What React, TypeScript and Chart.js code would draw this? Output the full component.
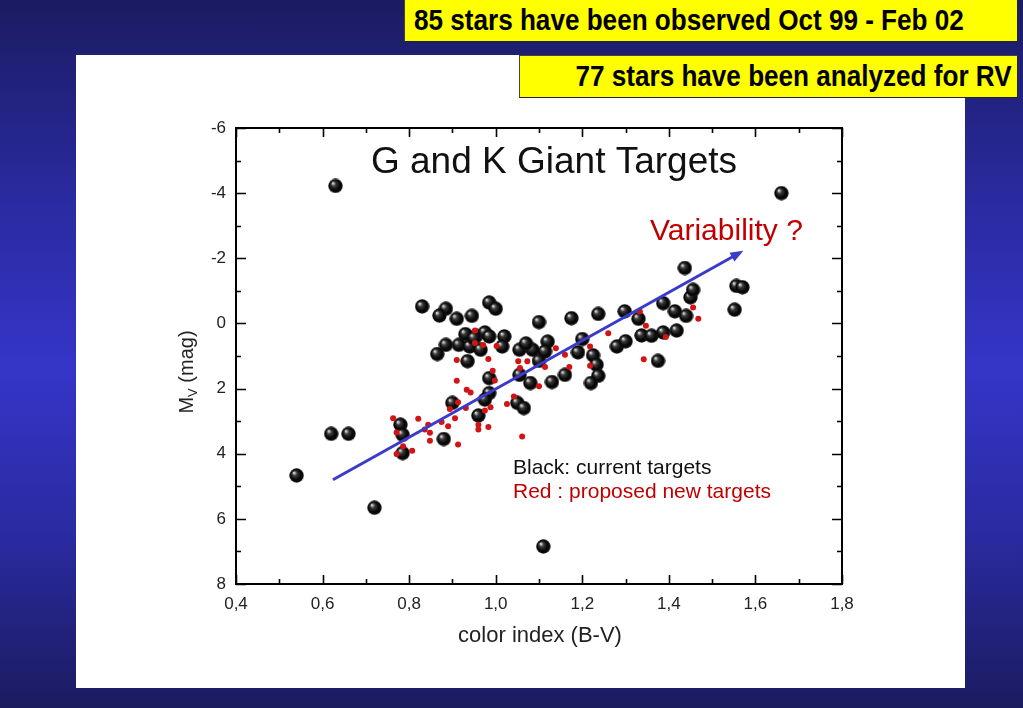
import React, { useEffect, useRef } from 'react';
import { Chart, registerables } from 'chart.js';

Chart.register(...registerables);

// ---------- data ----------
const xTickValues = [0.4, 0.6, 0.8, 1.0, 1.2, 1.4, 1.6, 1.8];
const yTickValues = [-6, -4, -2, 0, 2, 4, 6, 8];

const currentTargetsX = [
  0.63, 1.66, 0.54, 0.62, 0.66, 0.72, 1.11, 0.88, 0.83, 0.885,
  0.87, 0.91, 0.945, 0.985, 1.0, 1.1, 0.93, 0.955, 0.975, 0.985,
  1.02, 0.885, 0.915, 0.94, 0.965, 1.015, 0.865, 1.055, 1.085, 0.935,
  1.08, 0.985, 0.985, 0.975, 0.9, 1.05, 1.065, 0.96, 1.055, 0.78,
  0.785, 0.785, 1.175, 1.237, 1.298, 1.33, 1.387, 1.414, 1.44, 1.45,
  1.552, 1.12, 1.2, 1.114, 1.19, 1.225, 1.1, 1.233, 1.237, 1.16,
  1.13, 1.22, 1.28, 1.3, 1.337, 1.36, 1.387, 1.418, 1.375, 1.437,
  1.456, 1.556, 1.57, 0.95, 1.07,
];
const currentTargetsY = [
  -4.22, -4.0, 4.67, 3.39, 3.39, 5.66, 6.85, 3.55, -0.52, -0.45,
  -0.24, -0.14, -0.23, -0.64, -0.45, -0.04, 0.33, 0.38, 0.28, 0.4,
  0.4, 0.66, 0.66, 0.71, 0.81, 0.71, 0.94, 0.81, 0.81, 1.16,
  1.83, 1.68, 2.14, 2.34, 2.44, 2.44, 2.6, 2.83, 1.58, 3.11,
  3.42, 3.98, -0.16, -0.29, -0.37, -0.14, -0.62, -0.37, -0.23, -0.8,
  -0.42, 0.56, 0.48, 0.86, 0.89, 0.98, 1.15, 1.27, 1.61, 1.58,
  1.8, 1.83, 0.71, 0.55, 0.37, 0.38, 0.28, 0.22, 1.15, -1.7,
  -1.03, -1.15, -1.11, 0.45, 0.62,
];

const proposedTargetsX = [
  1.456, 1.468, 1.333, 1.347, 1.26, 1.393, 1.139, 1.218, 1.16, 1.114,
  1.17, 1.218, 1.1, 1.342, 0.952, 0.952, 0.971, 1.002, 0.91, 0.983,
  1.052, 1.056, 1.073, 0.993, 0.91, 0.998, 0.933, 0.942, 1.042, 0.913,
  1.026, 0.894, 0.931, 0.975, 0.988, 0.763, 0.821, 0.906, 0.875, 0.89,
  0.96, 0.96, 0.983, 0.844, 0.836, 0.848, 0.771, 0.848, 0.913, 0.786,
  0.771, 0.807, 1.061,
];
const proposedTargetsY = [
  -0.49, -0.14, -0.37, 0.07, 0.3, 0.42, 0.76, 0.71, 0.96, 1.34,
  1.34, 1.3, 1.93, 1.1, 0.22, 0.6, 0.66, 0.69, 1.12, 1.09,
  1.16, 1.37, 1.16, 1.45, 1.76, 1.75, 2.04, 2.12, 2.24, 2.42,
  2.47, 2.63, 2.6, 2.67, 2.57, 2.91, 2.93, 2.91, 3.03, 3.16,
  3.11, 3.26, 3.18, 3.11, 3.26, 3.36, 3.35, 3.6, 3.72, 3.77,
  4.01, 3.91, 3.47,
];

const trendX = [0.624, 1.564];
const trendY = [4.8, -2.17];

const titleText = 'G and K Giant Targets';
const noteText = 'Variability ?';
const legendBlack = 'Black: current targets';
const legendRed = 'Red : proposed new targets';
const xTitle = 'color index (B-V)';
const banner1 = '85 stars have been observed Oct 99 - Feb 02';
const banner2 = '77 stars have been analyzed for RV';

// ---------- styles ----------
const FONT = "'Liberation Sans', Arial, Helvetica, sans-serif";
const RED = '#d21414';
const DARKRED = '#c00000';
const BLUE = '#3a3acb';

function makeSphere(d: number): HTMLCanvasElement {
  const c = document.createElement('canvas');
  c.width = d;
  c.height = d;
  const g = c.getContext('2d')!;
  const r = d / 2;
  const grad = g.createRadialGradient(r - r * 0.38, r - r * 0.4, 0, r, r, r);
  grad.addColorStop(0, '#ffffff');
  grad.addColorStop(0.12, '#b8b8b8');
  grad.addColorStop(0.32, '#3a3a3a');
  grad.addColorStop(0.7, '#050505');
  grad.addColorStop(0.92, '#111111');
  grad.addColorStop(1, '#3a3a3a');
  g.fillStyle = grad;
  g.beginPath();
  g.arc(r, r, r - 0.3, 0, Math.PI * 2);
  g.fill();
  return c;
}

const framePlugin = {
  id: 'frameTicks',
  afterDatasetsDraw(chart: any) {
    const { ctx, chartArea: a, scales } = chart;
    const xs = scales.x;
    const ys = scales.y;
    ctx.save();
    ctx.strokeStyle = '#000';
    ctx.lineWidth = 2;
    ctx.strokeRect(a.left, a.top, a.right - a.left, a.bottom - a.top);
    ctx.lineWidth = 1.6;
    ctx.beginPath();
    for (let i = 0; i <= 14; i++) {
      const v = 0.4 + i * 0.1;
      const px = Math.round(xs.getPixelForValue(v)) + 0.5;
      const len = i % 2 === 0 ? 9 : 5;
      ctx.moveTo(px, a.bottom);
      ctx.lineTo(px, a.bottom - len);
      ctx.moveTo(px, a.top);
      ctx.lineTo(px, a.top + len);
    }
    for (let i = 0; i <= 14; i++) {
      const v = -6 + i;
      const py = Math.round(ys.getPixelForValue(v)) + 0.5;
      const len = i % 2 === 0 ? 10 : 5;
      ctx.moveTo(a.left, py);
      ctx.lineTo(a.left + len, py);
      ctx.moveTo(a.right, py);
      ctx.lineTo(a.right - len, py);
    }
    ctx.stroke();

    // arrow head
    const meta = chart.getDatasetMeta(0);
    const p0 = meta.data[0];
    const p1 = meta.data[1];
    if (p0 && p1) {
      const dx = p1.x - p0.x;
      const dy = p1.y - p0.y;
      const L = Math.hypot(dx, dy);
      const ux = dx / L;
      const uy = dy / L;
      const tipX = p1.x + ux * 4;
      const tipY = p1.y + uy * 4;
      const bx = tipX - ux * 13;
      const by = tipY - uy * 13;
      ctx.fillStyle = BLUE;
      ctx.beginPath();
      ctx.moveTo(tipX, tipY);
      ctx.lineTo(bx - uy * 5, by + ux * 5);
      ctx.lineTo(bx + uy * 5, by - ux * 5);
      ctx.closePath();
      ctx.fill();
    }
    ctx.restore();
  },
  afterDraw(chart: any) {
    const { ctx } = chart;
    ctx.save();
    ctx.textBaseline = 'alphabetic';
    ctx.fillStyle = '#111';
    ctx.font = `37px ${FONT}`;
    ctx.textAlign = 'center';
    ctx.fillText(titleText, 554, 173);

    ctx.fillStyle = DARKRED;
    ctx.font = `30px ${FONT}`;
    ctx.textAlign = 'left';
    ctx.fillText(noteText, 650, 240);

    ctx.font = `21px ${FONT}`;
    ctx.fillStyle = '#111';
    ctx.fillText(legendBlack, 513, 474);
    ctx.fillStyle = DARKRED;
    ctx.fillText(legendRed, 513, 498);

    ctx.fillStyle = '#222';
    ctx.font = `22px ${FONT}`;
    ctx.textAlign = 'center';
    ctx.fillText(xTitle, 540, 642);

    // y axis title with subscript
    ctx.translate(193, 372);
    ctx.rotate(-Math.PI / 2);
    ctx.textAlign = 'left';
    ctx.font = `20px ${FONT}`;
    const wM = ctx.measureText('M').width;
    ctx.font = `13px ${FONT}`;
    const wV = ctx.measureText('V').width;
    ctx.font = `20px ${FONT}`;
    const rest = ' (mag)';
    const wR = ctx.measureText(rest).width;
    const total = wM + wV + wR;
    const x0 = -total / 2;
    ctx.fillText('M', x0, 0);
    ctx.font = `13px ${FONT}`;
    ctx.fillText('V', x0 + wM, 4);
    ctx.font = `20px ${FONT}`;
    ctx.fillText(rest, x0 + wM + wV, 0);
    ctx.restore();
  },
};

export default function App() {
  const ref = useRef<HTMLCanvasElement>(null);

  useEffect(() => {
    const sphere = makeSphere(15);
    const chart = new Chart(ref.current!, {
      type: 'scatter',
      data: {
        datasets: [
          {
            label: 'trend',
            data: trendX.map((x, i) => ({ x, y: trendY[i] })),
            showLine: true,
            borderColor: BLUE,
            borderWidth: 3,
            pointRadius: 0,
            order: 0,
          } as any,
          {
            label: 'proposed',
            data: proposedTargetsX.map((x, i) => ({ x, y: proposedTargetsY[i] })),
            pointRadius: 3,
            backgroundColor: RED,
            borderWidth: 0,
            order: 1,
          },
          {
            label: 'current',
            data: currentTargetsX.map((x, i) => ({ x, y: currentTargetsY[i] })),
            pointStyle: sphere,
            pointRadius: 7.5,
            order: 2,
          } as any,
        ],
      },
      options: {
        responsive: false,
        animation: false,
        events: [],
        layout: { padding: { top: 128, right: 181, left: 0, bottom: 0 } },
        plugins: { legend: { display: false }, tooltip: { enabled: false } },
        scales: {
          x: {
            type: 'linear',
            min: 0.4,
            max: 1.8,
            afterBuildTicks: (s: any) => {
              s.ticks = xTickValues.map((v) => ({ value: v }));
            },
            afterFit: (s: any) => {
              s.height = 124;
            },
            grid: { display: false, drawTicks: false },
            border: { display: false },
            ticks: {
              padding: 10,
              color: '#222',
              font: { family: FONT, size: 17 },
              maxRotation: 0,
              autoSkip: false,
              callback: (v: any) => Number(v).toFixed(1).replace('.', ','),
            },
          },
          y: {
            type: 'linear',
            min: -6,
            max: 8,
            reverse: true,
            afterBuildTicks: (s: any) => {
              s.ticks = yTickValues.map((v) => ({ value: v }));
            },
            afterFit: (s: any) => {
              s.width = 236;
            },
            grid: { display: false, drawTicks: false },
            border: { display: false },
            ticks: {
              padding: 10,
              color: '#222',
              font: { family: FONT, size: 17 },
              autoSkip: false,
              callback: (v: any) => String(v),
            },
          },
        },
      },
      plugins: [framePlugin],
    });
    return () => chart.destroy();
  }, []);

  const bannerFont = "bold 29px 'Liberation Sans', Arial, sans-serif";
  const boxBase: React.CSSProperties = {
    position: 'absolute',
    height: 43,
    boxSizing: 'border-box',
    background: '#ffff00',
    border: '1px solid #444',
    borderRightColor: '#222',
    borderBottomColor: '#222',
    color: '#000',
    display: 'flex',
    alignItems: 'center',
    whiteSpace: 'nowrap',
    overflow: 'hidden',
  };

  return (
    <div
      style={{
        position: 'fixed',
        left: 0,
        top: 0,
        width: 1023,
        height: 708,
        overflow: 'hidden',
        background: 'linear-gradient(to bottom, #1b1b62 0%, #2a2aa0 28%, #3535c8 52%, #2a2aa0 76%, #1b1b60 100%)',
      }}
    >
      <div style={{ position: 'absolute', left: 76, top: 55, width: 889, height: 633, background: '#ffffff' }} />
      <canvas ref={ref} width={1023} height={708} style={{ position: 'absolute', left: 0, top: 0 }} />
      <div style={{ ...boxBase, left: 404, top: -1, width: 614, paddingLeft: 9 }}>
        <span
          style={{
            display: 'inline-block',
            font: bannerFont,
            transform: 'scaleX(0.9)',
            transformOrigin: 'left center',
          }}
        >
          {banner1}
        </span>
      </div>
      <div style={{ ...boxBase, left: 519, top: 55, width: 499, justifyContent: 'flex-end', paddingRight: 5 }}>
        <span
          style={{
            display: 'inline-block',
            font: bannerFont,
            transform: 'scaleX(0.9)',
            transformOrigin: 'right center',
          }}
        >
          {banner2}
        </span>
      </div>
    </div>
  );
}
